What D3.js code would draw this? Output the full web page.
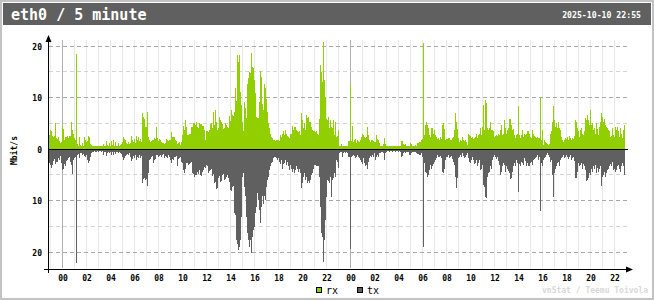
<!DOCTYPE html>
<html><head><meta charset="utf-8">
<script src="https://cdn.jsdelivr.net/npm/d3@7/dist/d3.min.js"></script>
<style>body{margin:0;background:#fff}svg{display:block}</style>
</head><body><svg id="c" width="654" height="300"></svg>
<script>
const titleText = "eth0 / 5 minute";
const stampText = "2025-10-10 22:55";
const unitText = "Mbit/s";
const creditText = "vnStat / Teemu Toivola";
const seriesNames = ["rx", "tx"];
const seriesColors = ["#92cf00", "#606060"];
const gridValues = [-20, -15, -10, -5, 5, 10, 15, 20];
const labelValues = [20, 10, 0, -10, -20];

// rx, Mbit/s, one value per 5 minutes, starting 2025-10-08 22:55
const rxA = [
2.8,3.6,3.4,2.5,2.3,2.6,5.1,2.2,1.9,2.4,1.6,1.2,
1.3,4.5,3.8,1.8,2.4,2.4,2.5,2.2,2.5,2.6,5.2,3.7,
3.0,2.1,1.8,18.4,1.0,0.6,2.4,0.8,0.6,1.1,0.6,2.3,
1.8,1.4,1.5,2.5,2.3,1.0,0.7,0.6,0.6,0.6,0.6,0.6,
0.6,0.6,0.6,0.6,0.6,0.6,1.0,0.6,0.6,1.6,0.8,0.6,
1.1,0.6,1.6,0.8,1.7,0.6,1.4,0.6,0.6,1.1,0.6,0.8,
1.0,1.4,2.3,2.0,1.7,1.2,1.0,1.3,0.9,1.1,2.5,1.8,
1.4,1.9,1.2,2.5,1.8,2.4,1.6,2.0,1.3,7.0,6.3,5.9];
const rxB = [
4.3,4.3,7.2,2.3,1.7,1.4,1.6,1.8,1.7,2.1,2.0,4.2,
2.2,1.5,1.9,1.7,1.4,1.2,1.2,1.0,1.1,2.0,1.7,1.6,
1.7,1.8,3.3,2.3,2.4,2.4,1.7,1.6,1.0,1.1,1.4,0.8,
1.4,2.7,4.5,3.7,5.6,4.2,2.7,2.8,2.9,3.0,4.2,4.3,
5.0,5.0,4.6,5.3,4.2,4.0,5.1,4.8,4.9,4.4,4.5,3.7,
1.7,3.4,3.5,3.3,3.7,4.8,5.0,4.1,7.1,4.6,7.6,5.2,
3.7,4.0,6.2,5.6,5.3,4.8,3.9,4.0,5.0,4.6,4.3,4.1,
6.4,5.5,7.6,6.6,6.4,7.1,11.8,9.4,18.3,16.8,18.3,11.1];
const rxC = [
8.5,5.3,3.4,9.1,8.0,6.0,12.7,13.7,14.9,14.7,18.7,
16.0,15.7,13.4,10.8,6.3,6.0,6.0,9.1,15.2,14.0,8.8,7.6,
12.7,11.8,9.8,7.2,5.0,4.0,3.0,2.4,2.1,1.7,1.7,1.6,
1.7,1.7,1.8,1.6,2.7,2.4,2.9,3.4,2.7,3.6,2.9,2.6,
2.4,2.2,2.9,3.0,4.5,3.6,4.2,4.3,3.7,3.5,3.3,3.4,
2.7,6.9,5.6,4.0,5.0,3.7,6.6,6.0,6.3,5.3,5.3,4.2,
3.7,3.5,3.5,3.3,3.4,2.9,2.7,5.9,16.3,15.0,13.0,20.8,
13.4,10.0,5.9,5.6,6.3,4.0,5.6,4.3,4.0,5.6,2.7,5.3];
const rxD = [
2.4,2.6,3.7,0.6,0.5,1.0,0.6,0.5,0.6,0.5,0.6,0.5,
1.5,1.6,12.4,1.6,4.5,1.4,1.7,1.9,1.1,1.7,1.5,1.4,
1.7,2.3,3.0,2.7,2.4,2.1,2.4,4.2,2.7,1.7,1.4,1.7,
1.7,1.6,1.4,1.3,2.8,2.0,1.7,1.1,0.6,0.6,0.6,0.9,
2.1,0.9,0.6,0.6,0.6,0.6,0.6,0.6,0.6,0.6,0.6,0.6,
0.6,0.6,0.6,0.6,0.6,1.6,1.6,1.0,0.8,1.0,0.6,0.6,
0.6,0.6,1.1,0.9,0.6,0.6,0.6,0.8,0.6,1.1,1.1,1.4,
1.4,1.7,1.9,20.5,2.7,4.7,5.3,4.7,4.0,2.7,2.4,4.0];
const rxE = [
4.0,2.9,3.7,2.7,2.4,1.9,2.1,1.7,2.4,1.9,4.7,5.0,
3.8,1.7,1.9,1.9,2.1,2.1,1.7,1.8,2.2,2.4,3.7,7.0,
5.3,3.8,2.1,1.4,1.7,1.6,2.4,1.7,1.6,1.7,1.4,0.8,
3.0,2.7,2.5,2.1,2.4,1.9,2.1,2.4,3.0,2.1,2.7,2.9,
4.0,2.7,4.2,8.5,3.7,9.5,8.9,4.0,3.7,4.0,5.3,3.7,
3.7,3.5,2.4,2.5,2.7,2.5,3.0,2.7,3.6,4.7,2.7,3.0,
5.6,4.0,3.0,3.7,4.0,5.8,5.8,4.7,3.7,3.8,2.7,2.1,
2.7,3.0,8.3,2.7,2.1,2.7,3.7,2.4,2.9,2.7,3.0,3.4];
const rxF = [
3.4,3.0,2.4,2.1,3.7,3.0,2.5,2.4,2.1,2.4,2.1,2.1,
10.0,1.7,3.7,0.8,1.7,1.4,1.1,1.0,0.8,1.0,2.9,3.4,
5.3,8.3,5.6,4.2,5.0,4.0,5.3,4.0,3.7,2.4,1.7,1.4,
1.7,2.1,1.9,2.3,1.7,2.5,2.1,1.7,2.1,1.9,2.5,5.6,
5.3,4.0,3.4,2.4,3.7,4.0,3.0,2.7,3.4,6.0,5.6,6.6,
5.6,4.7,7.6,4.7,5.0,3.7,4.0,3.0,5.0,3.8,2.7,4.2,
5.3,7.0,6.3,5.3,5.8,4.7,4.2,4.0,3.7,3.4,2.4,2.5,
4.0,2.7,2.4,4.2,3.7,4.3,3.4,2.4,4.0,3.0,2.1,3.7,4.7];

// tx, Mbit/s
const txA = [
2.6,3.0,3.5,2.9,2.2,1.8,2.8,2.3,2.4,1.6,1.9,1.2,
2.5,3.8,3.6,2.7,3.2,2.2,2.0,1.5,1.3,2.4,2.9,4.7,
2.0,1.6,1.4,22.0,1.0,0.8,1.5,0.6,0.5,0.9,0.7,1.2,
1.3,1.0,1.9,2.6,2.1,1.4,0.6,0.3,0.3,0.2,0.3,0.3,
0.2,0.3,0.2,0.2,0.3,0.2,1.0,0.4,0.3,1.1,0.5,0.3,
0.6,0.3,1.0,0.4,0.9,0.3,0.7,0.3,0.3,0.6,0.3,0.5,
0.8,1.4,1.9,1.6,1.2,0.9,0.8,1.0,0.6,1.3,2.1,1.7,
1.2,1.5,0.9,2.0,1.3,1.6,1.0,1.5,1.1,6.5,5.7,5.5];
const txB = [
5.8,5.6,6.9,4.5,2.0,1.7,1.3,1.1,2.6,1.9,1.8,1.0,
1.0,1.3,1.2,0.9,1.4,1.0,0.8,1.6,1.2,1.3,1.5,1.0,
1.4,1.9,2.6,1.7,2.0,1.3,1.4,1.2,3.2,1.8,1.5,1.3,
2.3,2.5,3.9,4.4,3.6,2.5,2.6,2.9,2.7,2.6,2.3,4.5,
4.6,5.2,4.9,4.8,4.3,4.6,3.8,4.9,5.0,4.2,3.8,3.3,
3.5,3.0,3.2,4.5,4.0,3.9,3.7,5.1,4.6,6.4,6.3,7.6,
7.4,5.5,5.0,6.2,6.0,4.8,4.6,5.8,5.7,5.2,4.9,5.5,
6.2,7.8,8.0,7.2,7.0,12.3,12.7,17.5,18.2,19.5,18.8,17.5];
const txC = [
13.0,5.2,4.5,7.1,9.0,13.0,16.2,17.5,18.8,17.5,20.0,
16.8,15.5,14.9,12.3,11.0,8.4,9.7,11.7,14.2,11.0,9.0,10.4,
9.0,9.7,7.1,5.8,5.2,3.9,3.2,2.6,2.3,1.6,1.3,1.4,
1.6,1.9,1.6,2.3,2.7,1.9,3.6,2.7,2.5,1.9,2.9,2.3,
3.2,3.9,2.9,3.6,4.2,3.6,4.5,3.9,3.2,3.6,4.2,3.6,
4.5,7.4,6.5,5.2,4.5,5.8,5.2,6.5,6.1,6.5,5.8,4.9,
4.5,3.6,2.9,2.9,3.1,3.1,3.2,5.2,11.0,16.2,16.8,21.7,
17.5,13.6,9.1,5.8,6.1,6.5,5.2,9.1,5.8,5.5,4.5,5.2];
const txD = [
1.9,2.3,3.4,0.6,0.4,0.3,1.3,0.5,0.4,0.6,0.4,0.5,
1.3,1.3,19.2,1.3,1.1,0.9,1.1,1.6,1.3,1.0,1.3,1.6,
1.9,2.3,2.7,1.6,2.6,3.1,2.9,3.6,2.3,1.6,1.2,1.4,
1.0,1.3,0.6,1.9,1.3,1.0,1.3,0.6,0.5,0.3,0.3,0.5,
1.9,0.6,0.3,0.2,0.2,0.3,0.2,0.2,0.3,0.2,0.2,0.3,
0.2,0.2,0.3,0.2,0.3,1.3,1.2,0.5,0.4,0.5,0.3,0.4,
0.4,0.9,1.0,0.5,0.3,0.4,0.3,0.3,0.5,0.8,0.7,1.0,
0.9,0.5,1.3,18.8,2.6,4.2,4.5,5.2,4.9,3.9,2.9,3.6];
const txE = [
3.2,2.7,2.3,1.9,1.6,1.0,1.4,1.3,1.2,1.6,4.2,4.4,
3.6,1.9,1.4,1.3,1.0,1.6,1.3,1.2,1.8,2.3,2.9,5.2,
7.3,5.5,1.6,1.3,1.0,1.4,0.6,1.2,1.6,1.4,1.0,0.6,
1.6,2.3,2.6,1.9,1.3,1.9,2.7,2.5,1.9,3.1,2.5,1.9,
3.9,3.6,2.9,6.8,7.1,9.1,9.4,5.2,4.5,4.2,3.2,3.6,
1.9,1.3,1.0,1.4,1.8,1.3,2.1,2.9,4.9,4.2,3.2,2.6,
2.9,4.2,3.2,3.6,4.0,4.5,5.7,5.5,4.2,3.2,2.6,3.1,
1.9,2.5,8.1,2.7,3.1,2.3,2.5,2.9,1.6,2.1,3.2,2.6];
const txF = [
3.1,3.2,2.6,2.3,2.9,1.9,1.8,1.6,1.3,1.0,1.9,1.3,
11.8,2.6,3.1,1.9,1.6,1.3,1.0,0.6,1.0,1.3,2.3,1.9,
4.9,9.2,4.5,3.6,3.2,2.6,2.3,3.2,1.9,1.6,1.3,1.0,
1.6,1.3,1.0,1.4,1.8,1.3,1.0,1.9,1.6,1.3,2.1,5.4,
5.4,4.2,2.6,3.2,2.9,2.5,3.6,2.7,3.2,3.9,6.1,5.8,
5.5,4.4,4.9,3.6,4.2,3.2,3.7,2.9,4.5,3.4,4.2,3.6,
3.2,6.9,5.2,4.9,4.2,5.2,4.5,3.9,3.6,3.1,2.7,3.2,
2.3,3.9,3.6,4.2,3.9,3.1,2.9,3.6,4.2,3.2,2.6,3.2,4.9];

const rx = rxA.concat(rxB, rxC, rxD, rxE, rxF);
const tx = txA.concat(txB, txC, txD, txE, txF);

const start = new Date(2025, 9, 8, 22, 55);
const stepMs = 5 * 60 * 1000;
const end = new Date(+start + rx.length * stepMs);
const timeOf = i => new Date(+start + i * stepMs);

const svg = d3.select("#c");
const FONT = "'DejaVu Sans Mono', 'Liberation Mono', monospace";

const x = d3.scaleTime().domain([start, end]).range([49, 49 + rx.length]);
const y = d3.scaleLinear().domain([-20, 20]).range([252, 46]);
const y0 = Math.floor(y(0));

// background + frame
svg.append("rect").attr("x", 0).attr("y", 0).attr("width", 654).attr("height", 300).attr("fill", "#fff");
svg.append("rect").attr("x", 1).attr("y", 1).attr("width", 652).attr("height", 298)
  .attr("fill", "none").attr("stroke", "#c2c2c2").attr("stroke-width", 2);

// header
svg.append("rect").attr("x", 3).attr("y", 3).attr("width", 648).attr("height", 22).attr("fill", "#606060");
svg.append("text").attr("x", 11).attr("y", 19.5).text(titleText)
  .attr("fill", "#fff").attr("font-family", FONT).attr("font-size", "15px").attr("font-weight", "bold");
svg.append("text").attr("x", 641).attr("y", 18).attr("text-anchor", "end").text(stampText)
  .attr("fill", "#fff").attr("font-family", FONT).attr("font-size", "8.2px").attr("font-weight", "bold");

// vertical hour grid
const hours = d3.timeHour.range(d3.timeHour.ceil(start), end);
svg.append("g").selectAll("line").data(hours).join("line")
  .attr("x1", d => Math.round(x(d)) + 0.5).attr("x2", d => Math.round(x(d)) + 0.5)
  .attr("y1", 40).attr("y2", 268)
  .attr("stroke", d => d.getHours() === 0 ? "#b0b0b0" : "#e8e8e8")
  .attr("stroke-width", 1);

// horizontal dashed grid
svg.append("g").selectAll("line").data(gridValues).join("line")
  .attr("x1", 49).attr("x2", 628)
  .attr("y1", d => Math.floor(y(d)) + 0.5).attr("y2", d => Math.floor(y(d)) + 0.5)
  .attr("stroke", d => d % 10 === 0 ? "#a8a8a8" : "#d4d4d4")
  .attr("stroke-dasharray", "4,3");

// bars
const bars = svg.append("g").attr("shape-rendering", "crispEdges");
bars.selectAll("rect.rx").data(rx).join("rect").attr("class", "rx")
  .attr("x", (d, i) => Math.round(x(timeOf(i)))).attr("width", 1)
  .attr("y", d => y(d)).attr("height", d => y0 - y(d))
  .attr("fill", seriesColors[0]);
bars.selectAll("rect.tx").data(tx).join("rect").attr("class", "tx")
  .attr("x", (d, i) => Math.round(x(timeOf(i)))).attr("width", 1)
  .attr("y", y0 + 1).attr("height", d => y(-d) - y0)
  .attr("fill", seriesColors[1]);

// zero line
svg.append("line").attr("x1", 48).attr("x2", 628).attr("y1", y0 + 0.5).attr("y2", y0 + 0.5)
  .attr("stroke", "#000").attr("stroke-width", 1);

// axes lines with arrows
svg.append("line").attr("x1", 48.5).attr("x2", 48.5).attr("y1", 38).attr("y2", 273).attr("stroke", "#000");
svg.append("path").attr("d", "M48.5,35 L45.5,42 L51.5,42 Z").attr("fill", "#000");
svg.append("line").attr("x1", 44).attr("x2", 630).attr("y1", 269.5).attr("y2", 269.5).attr("stroke", "#000");
svg.append("path").attr("d", "M633,269.5 L626,266.5 L626,272.5 Z").attr("fill", "#000");

// x tick labels
const xTicks = hours.filter(h => h.getHours() % 2 === 0);
const xAxis = svg.append("g").attr("transform", "translate(0,269)")
  .call(d3.axisBottom(x).tickValues(xTicks).tickFormat(d3.timeFormat("%H")).tickSize(0).tickPadding(6));
xAxis.select(".domain").remove();
xAxis.selectAll("text").attr("font-family", FONT).attr("font-size", "8px").attr("font-weight", "bold")
  .attr("fill", "#000").attr("x", 0.5);

// y tick labels
const yAxis = svg.append("g").attr("transform", "translate(48,0.5)")
  .call(d3.axisLeft(y).tickValues(labelValues).tickFormat(d => Math.abs(d)).tickSize(0).tickPadding(6));
yAxis.select(".domain").remove();
yAxis.selectAll("text").attr("font-family", FONT).attr("font-size", "8px").attr("font-weight", "bold").attr("fill", "#000");

// unit label
svg.append("text").attr("transform", "translate(17,150.5) rotate(-90)").attr("text-anchor", "middle")
  .text(unitText).attr("font-family", FONT).attr("font-size", "8px").attr("font-weight", "bold").attr("fill", "#000");

// legend
const legendX = [316, 357];
seriesNames.forEach((n, k) => {
  svg.append("rect").attr("x", legendX[k] + 0.5).attr("y", 287.5).attr("width", 5).attr("height", 5)
    .attr("fill", seriesColors[k]).attr("stroke", "#000");
  svg.append("text").attr("x", legendX[k] + 10).attr("y", 294).text(n)
    .attr("font-family", FONT).attr("font-size", "10px").attr("fill", "#000");
});

// credit
svg.append("text").attr("x", 648).attr("y", 293).attr("text-anchor", "end").text(creditText)
  .attr("font-family", FONT).attr("font-size", "8px").attr("font-weight", "bold").attr("fill", "#d8d8d8");
</script>
</body></html>
